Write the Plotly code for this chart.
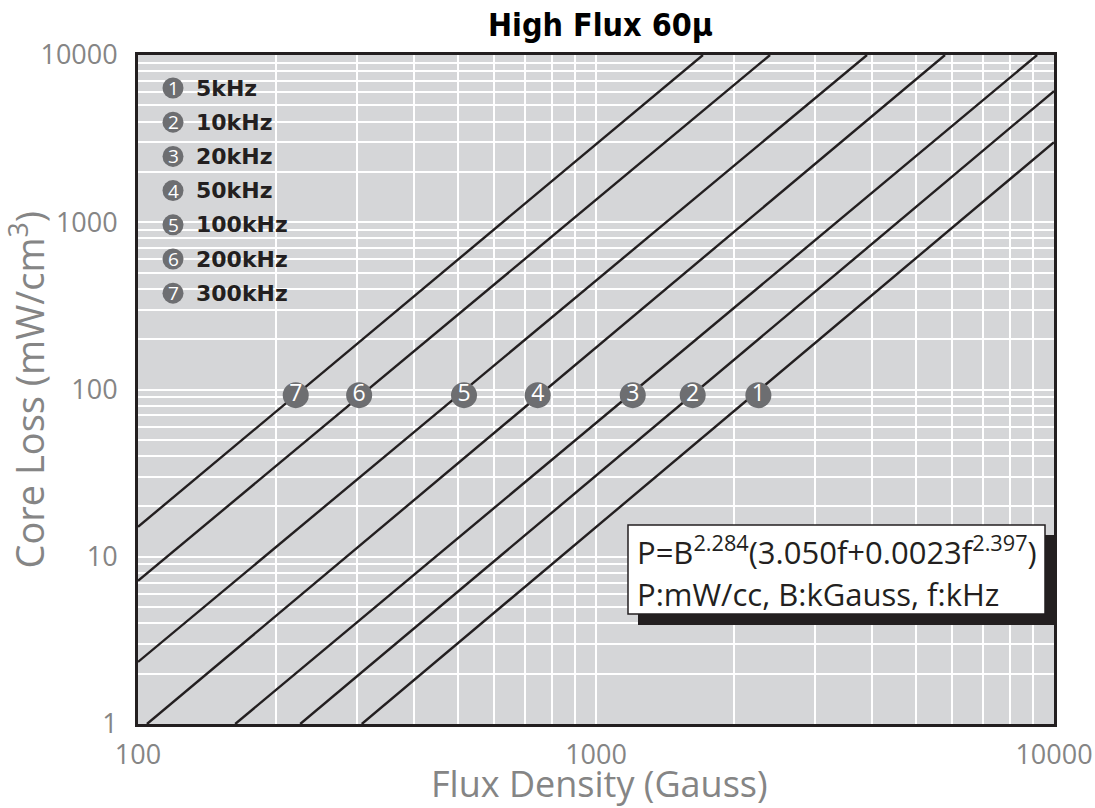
import plotly.graph_objects as go

# ---------------- data ----------------
freq_labels = ["5kHz", "10kHz", "20kHz", "50kHz", "100kHz", "200kHz", "300kHz"]
curve_ids = ["1", "2", "3", "4", "5", "6", "7"]
# each curve is a straight line on log-log axes: start point and end point
b_start = [308, 226, 163, 104.6, 100, 100, 100]
p_start = [1, 1, 1, 1, 2.35, 7.18, 15.1]
b_end = [10000, 10000, 9186, 5781, 3906, 2399, 1712]
p_end = [3013, 6085, 10000, 10000, 10000, 10000, 10000]
# numbered markers sitting on each curve
marker_b = [2262, 1626, 1203, 746, 515, 304, 221]
marker_p = [92.5, 92.5, 92.5, 92.5, 92.5, 92.5, 92.5]

x_ticks = [100, 1000, 10000]
y_ticks = [1, 10, 100, 1000, 10000]
x_minor = [m * d for d in (100, 1000) for m in range(2, 10)]
y_minor = [m * d for d in (1, 10, 100, 1000) for m in range(2, 10)]

title_text = "High Flux 60μ"
x_title = "Flux Density (Gauss)"
y_title = "Core Loss (mW/cm<sup>3</sup>)"
formula_1 = "P=B<sup>2.284</sup>(3.050f+0.0023f<sup>2.397</sup>)"
formula_2 = "P:mW/cc, B:kGauss, f:kHz"

# ---------------- styling ----------------
BG = "#d5d6d8"
INK = "#231f20"
GREY_TXT = "#858585"
MARK = "#6d6e71"

W, H = 1095, 808
L, R, T, B = 138, 41, 55, 84
PW, PH = W - L - R, H - T - B


def px_to_paper_x(px):
    return (px - L) / PW


def px_to_paper_y(py):
    return (H - B - py) / PH


fig = go.Figure()

for i in range(len(freq_labels)):
    fig.add_trace(go.Scatter(
        x=[b_start[i], b_end[i]], y=[p_start[i], p_end[i]],
        mode="lines", line=dict(color=INK, width=2.4),
        showlegend=False, hoverinfo="skip", cliponaxis=True,
    ))

fig.add_trace(go.Scatter(
    x=marker_b, y=marker_p, mode="markers+text",
    marker=dict(size=26, color=MARK, line=dict(width=0)),
    text=curve_ids, textposition="middle center",
    textfont=dict(family="Open Sans", size=23, color="white"),
    showlegend=False, hoverinfo="skip",
))

shapes = []
annotations = []

# legend (numbered circles + labels)
leg_y0 = 88
leg_dy = 34.2
for i, lab in enumerate(freq_labels):
    py = leg_y0 + i * leg_dy
    xp = px_to_paper_x(173)
    yp = px_to_paper_y(py)
    shapes.append(dict(type="circle", xref="paper", yref="paper",
                       xsizemode="pixel", ysizemode="pixel",
                       xanchor=xp, yanchor=yp, x0=-10.5, x1=10.5, y0=-10.5, y1=10.5,
                       fillcolor=MARK, line=dict(width=0), layer="above"))
    annotations.append(dict(text=curve_ids[i], xref="paper", yref="paper",
                            x=xp, y=yp, xanchor="center", yanchor="middle",
                            showarrow=False,
                            font=dict(family="Open Sans", size=19, color="white")))
    annotations.append(dict(text=lab, xref="paper", yref="paper",
                            x=px_to_paper_x(194), y=yp, xanchor="left", yanchor="middle",
                            showarrow=False,
                            font=dict(family="DejaVu Sans", size=22, color=INK, weight="bold")))

# formula box with shadow
shapes.append(dict(type="rect", xref="paper", yref="paper",
                   x0=px_to_paper_x(638), x1=px_to_paper_x(1054),
                   y0=px_to_paper_y(625), y1=px_to_paper_y(535),
                   fillcolor=INK, line=dict(width=0), layer="above"))
shapes.append(dict(type="rect", xref="paper", yref="paper",
                   x0=px_to_paper_x(628), x1=px_to_paper_x(1045),
                   y0=px_to_paper_y(614), y1=px_to_paper_y(525),
                   fillcolor="white", line=dict(color=INK, width=1.5), layer="above"))
annotations.append(dict(text=formula_1, xref="paper", yref="paper",
                        x=px_to_paper_x(635), y=px_to_paper_y(550),
                        xanchor="left", yanchor="middle", showarrow=False,
                        font=dict(family="Open Sans", size=31, color=INK)))
annotations.append(dict(text=formula_2, xref="paper", yref="paper",
                        x=px_to_paper_x(635), y=px_to_paper_y(594),
                        xanchor="left", yanchor="middle", showarrow=False,
                        font=dict(family="Open Sans", size=31, color=INK)))

# titles
annotations.append(dict(text=title_text, xref="paper", yref="paper",
                        x=px_to_paper_x(600), y=px_to_paper_y(25),
                        xanchor="center", yanchor="middle", showarrow=False,
                        font=dict(family="DejaVu Sans Condensed", size=32, color="black", weight="bold")))
annotations.append(dict(text=x_title, xref="paper", yref="paper",
                        x=px_to_paper_x(599), y=px_to_paper_y(783),
                        xanchor="center", yanchor="middle", showarrow=False,
                        font=dict(family="Open Sans", size=36, color=GREY_TXT)))
annotations.append(dict(text=y_title, xref="paper", yref="paper",
                        x=px_to_paper_x(28), y=0.5, textangle=-90,
                        xanchor="center", yanchor="middle", showarrow=False,
                        font=dict(family="Open Sans", size=38, color=GREY_TXT)))

axis_common = dict(
    type="log", showline=True, linecolor=INK, linewidth=2.8, mirror=True,
    showgrid=True, gridcolor="white", gridwidth=1.8, automargin=False,
    zeroline=False, ticks="", tickfont=dict(family="Open Sans", size=27, color=GREY_TXT),
)

fig.update_layout(
    width=W, height=H,
    margin=dict(l=L, r=R, t=T, b=B, pad=0, autoexpand=False),
    paper_bgcolor="white", plot_bgcolor=BG,
    showlegend=False,
    shapes=shapes, annotations=annotations,
    xaxis=dict(range=[2, 4], tickvals=x_ticks, ticktext=[str(v) for v in x_ticks],
               ticklabelstandoff=5,
               minor=dict(tickvals=x_minor, showgrid=True, gridcolor="white", gridwidth=1.5, ticks=""),
               **axis_common),
    yaxis=dict(range=[0, 4], tickvals=y_ticks, ticktext=[str(v) for v in y_ticks],
               ticklabelstandoff=12,
               minor=dict(tickvals=y_minor, showgrid=True, gridcolor="white", gridwidth=1.5, ticks=""),
               **axis_common),
)

fig.write_html("out.html")
